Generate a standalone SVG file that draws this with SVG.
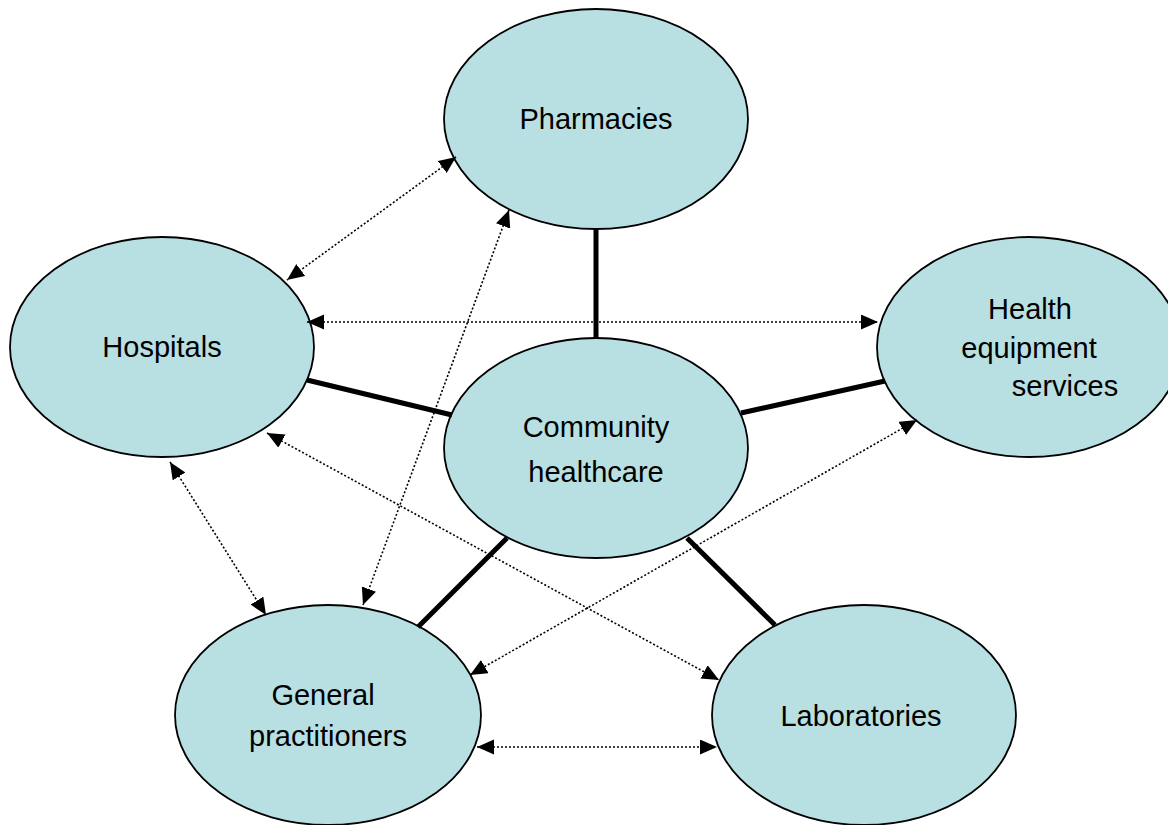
<svg xmlns="http://www.w3.org/2000/svg" width="1168" height="825" viewBox="0 0 1168 825">
<style>
.node{fill:#b8dfe2;stroke:#000;stroke-width:1.8}
.lbl{font-family:"Liberation Sans",Arial,sans-serif;font-size:29px;fill:#000;text-anchor:middle}
.thick{stroke:#000;stroke-width:5;fill:none}
.dot{stroke:#000;stroke-width:1.6;stroke-dasharray:2 2;fill:none;marker-start:url(#ah);marker-end:url(#ah)}
</style>
<defs>
<marker id="ah" markerUnits="userSpaceOnUse" markerWidth="18" markerHeight="16" refX="17" refY="7.5" orient="auto-start-reverse">
<path d="M0,0 L17,7.5 L0,15 z" fill="#000"/>
</marker>
</defs>
<rect width="1168" height="825" fill="#fff"/>
<g id="pharmacies"><ellipse class="node" cx="596" cy="119" rx="152" ry="110"/><text class="lbl" x="596" y="129">Pharmacies</text></g>
<g id="hospitals"><ellipse class="node" cx="162" cy="347" rx="152" ry="110"/><text class="lbl" x="162" y="357">Hospitals</text></g>
<g id="health-equipment"><ellipse class="node" cx="1029" cy="347" rx="152" ry="110"/><text class="lbl" x="1030" y="319">Health</text><text class="lbl" x="1029" y="358">equipment</text><text class="lbl" x="1065" y="396">services</text></g>
<g id="community"><ellipse class="node" cx="596" cy="448" rx="152" ry="110"/><text class="lbl" x="596" y="437">Community</text><text class="lbl" x="596" y="482">healthcare</text></g>
<g id="gp"><ellipse class="node" cx="328" cy="715" rx="153" ry="110"/><text class="lbl" x="323" y="705">General</text><text class="lbl" x="328" y="746">practitioners</text></g>
<g id="laboratories"><ellipse class="node" cx="864" cy="715" rx="152" ry="110"/><text class="lbl" x="861" y="726">Laboratories</text></g>
<g id="connectors">
<line class="thick" x1="596" y1="229" x2="596" y2="338"/>
<line class="thick" x1="307" y1="380" x2="452" y2="415"/>
<line class="thick" x1="741" y1="413" x2="885" y2="381"/>
<line class="thick" x1="507" y1="538" x2="418" y2="627"/>
<line class="thick" x1="687" y1="538" x2="775" y2="625"/>
<line class="dot" x1="456" y1="157" x2="287" y2="280"/>
<line class="dot" x1="307" y1="322" x2="878" y2="322"/>
<line class="dot" x1="509" y1="210" x2="363" y2="605"/>
<line class="dot" x1="170" y1="462" x2="266" y2="615"/>
<line class="dot" x1="267" y1="433" x2="719" y2="680"/>
<line class="dot" x1="917" y1="420" x2="470" y2="675"/>
<line class="dot" x1="477" y1="747" x2="717" y2="747"/>
</g>
</svg>
